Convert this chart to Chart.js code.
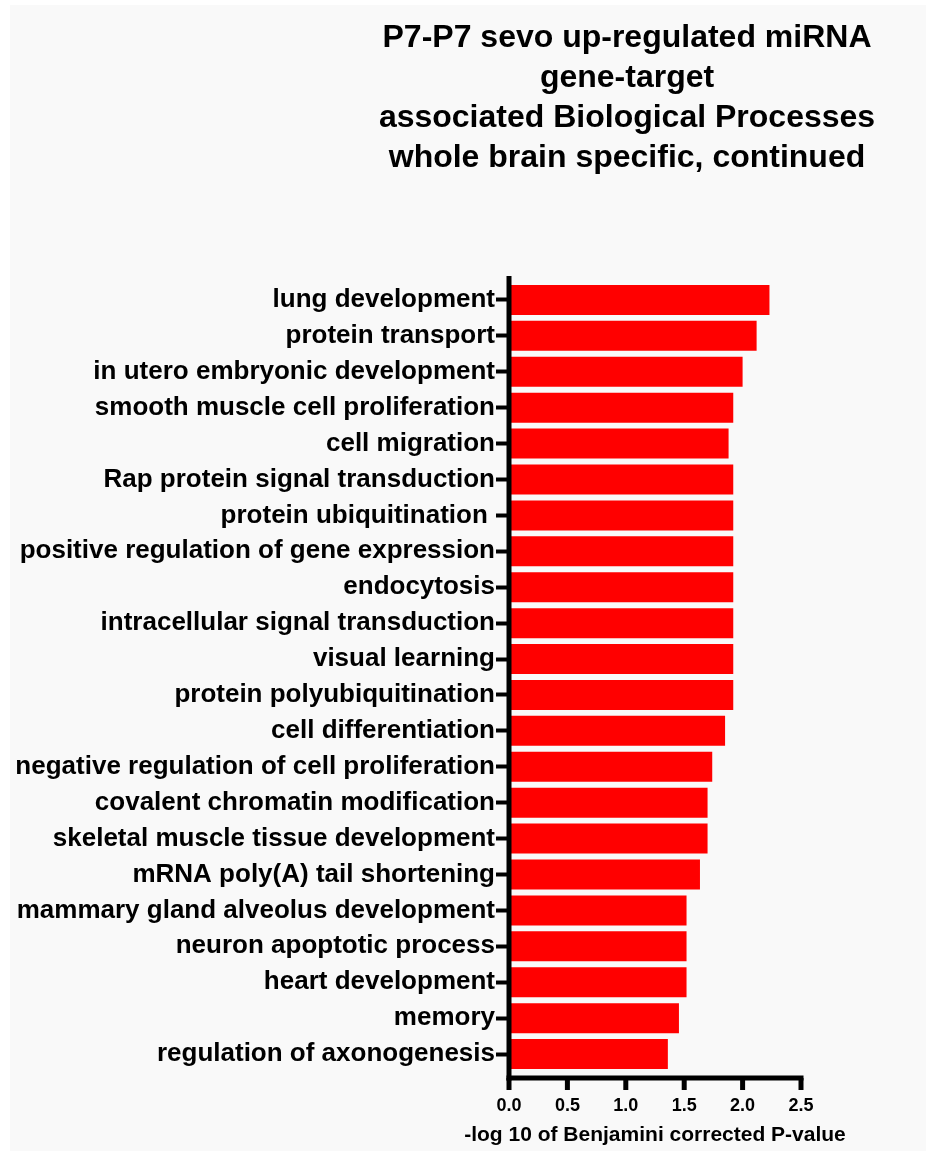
<!DOCTYPE html>
<html>
<head>
<meta charset="utf-8">
<title>P7-P7 sevo up-regulated miRNA gene-target Biological Processes</title>
<script src="https://cdn.jsdelivr.net/npm/chart.js@4/dist/chart.umd.min.js"></script>
<style>
  html, body { margin: 0; padding: 0; background: #ffffff; }
  #wrap { position: relative; width: 936px; height: 1156px; }
  canvas { display: block; }
</style>
</head>
<body>
<div id="wrap"><canvas id="chart" width="936" height="1156"></canvas></div>
<script>
// Biological process terms, top to bottom
const categories = [
  "lung development",
  "protein transport",
  "in utero embryonic development",
  "smooth muscle cell proliferation",
  "cell migration",
  "Rap protein signal transduction",
  "protein ubiquitination ",
  "positive regulation of gene expression",
  "endocytosis",
  "intracellular signal transduction",
  "visual learning",
  "protein polyubiquitination",
  "cell differentiation",
  "negative regulation of cell proliferation",
  "covalent chromatin modification",
  "skeletal muscle tissue development",
  "mRNA poly(A) tail shortening",
  "mammary gland alveolus development",
  "neuron apoptotic process",
  "heart development",
  "memory",
  "regulation of axonogenesis"
];

// -log10 of Benjamini corrected P-value per term
const negLogP = [
  2.23, 2.12, 2.00, 1.92, 1.88, 1.92, 1.92, 1.92, 1.92, 1.92, 1.92,
  1.92, 1.85, 1.74, 1.70, 1.70, 1.635, 1.52, 1.52, 1.52, 1.455, 1.36
];

const xTickValues = [0, 0.5, 1.0, 1.5, 2.0, 2.5];

const titleLines = [
  "P7-P7 sevo up-regulated miRNA",
  "gene-target",
  "associated Biological Processes",
  "whole brain specific, continued"
];
const xAxisTitle = "-log 10 of Benjamini corrected P-value";

const FONT = "'Liberation Sans', Arial, Helvetica, sans-serif";

// Page background panel, the multi-line heading and the x axis caption
const backdrop = {
  id: 'backdrop',
  beforeDraw(chart) {
    const ctx = chart.ctx;
    ctx.save();
    ctx.fillStyle = '#ffffff';
    ctx.fillRect(0, 0, chart.width, chart.height);
    ctx.fillStyle = '#f9f9f9';
    ctx.fillRect(10, 5, chart.width - 20, chart.height - 10);
    ctx.restore();
  },
  afterDraw(chart) {
    const ctx = chart.ctx;
    const x = chart.scales.x;
    ctx.save();
    ctx.fillStyle = '#000000';
    ctx.textAlign = 'center';
    ctx.textBaseline = 'alphabetic';
    ctx.font = `bold 32px ${FONT}`;
    titleLines.forEach((line, i) => {
      ctx.fillText(line, 627, 47 + i * 40);
    });
    ctx.font = `bold 21px ${FONT}`;
    ctx.fillText(xAxisTitle, (x.left + x.right) / 2, 1141);
    ctx.restore();
  }
};

// Heavy axis lines and x tick marks, drawn over the bar bases
const axes = {
  id: 'axes',
  afterDatasetsDraw(chart) {
    const ctx = chart.ctx;
    const x = chart.scales.x;
    const area = chart.chartArea;
    const x0 = x.getPixelForValue(0);
    const axisY = area.bottom + 6;
    ctx.save();
    ctx.strokeStyle = '#000000';
    ctx.lineCap = 'butt';
    ctx.lineWidth = 5;
    // vertical axis
    ctx.beginPath();
    ctx.moveTo(x0, area.top - 6);
    ctx.lineTo(x0, axisY + 2.5);
    ctx.stroke();
    // horizontal axis
    ctx.beginPath();
    ctx.moveTo(x0 - 2.5, axisY);
    ctx.lineTo(x.getPixelForValue(2.5) + 2.5, axisY);
    ctx.stroke();
    // tick marks
    xTickValues.forEach(v => {
      const px = x.getPixelForValue(v);
      ctx.beginPath();
      ctx.moveTo(px, axisY);
      ctx.lineTo(px, axisY + 12);
      ctx.stroke();
    });
    ctx.restore();
  }
};

new Chart(document.getElementById('chart'), {
  type: 'bar',
  data: {
    labels: categories,
    datasets: [{
      data: negLogP,
      backgroundColor: '#ff0000',
      borderWidth: 0,
      barPercentage: 0.835,
      categoryPercentage: 1.0
    }]
  },
  options: {
    indexAxis: 'y',
    responsive: false,
    animation: false,
    events: [],
    layout: { padding: { top: 282, left: 0, right: 135, bottom: 0 } },
    plugins: {
      legend: { display: false },
      title: { display: false },
      tooltip: { enabled: false }
    },
    scales: {
      x: {
        type: 'linear',
        min: 0,
        max: 2.5,
        afterFit(scale) { scale.height = 84; },
        afterBuildTicks(scale) { scale.ticks = xTickValues.map(v => ({ value: v })); },
        border: { display: false },
        grid: { display: false },
        ticks: {
          color: '#000000',
          padding: 15,
          font: { family: FONT, size: 18, weight: 'bold' },
          callback: v => Number(v).toFixed(1)
        },
        title: { display: false }
      },
      y: {
        type: 'category',
        afterFit(scale) { scale.width = 509; },
        border: { display: false },
        grid: {
          display: true,
          drawOnChartArea: false,
          drawTicks: true,
          offset: false,
          tickLength: 13,
          tickWidth: 4,
          tickColor: '#000000'
        },
        ticks: {
          color: '#000000',
          padding: 1,
          autoSkip: false,
          font: { family: FONT, size: 26, weight: 'bold' }
        }
      }
    }
  },
  plugins: [backdrop, axes]
});
</script>
</body>
</html>
